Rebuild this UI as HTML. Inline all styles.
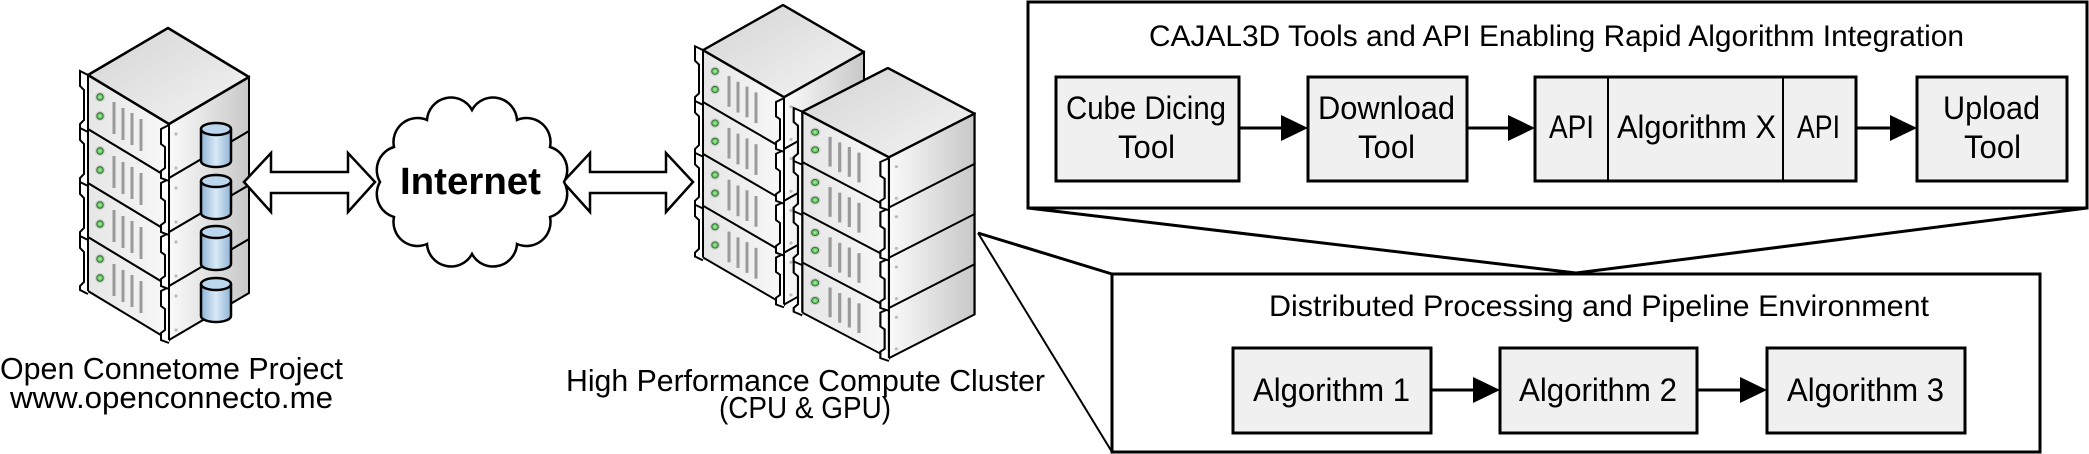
<!DOCTYPE html>
<html><head><meta charset="utf-8"><style>
html,body{margin:0;padding:0;background:#fff;}
svg{display:block;}
text{font-family:"Liberation Sans",sans-serif;fill:#000;}
</style></head><body>
<svg width="2089" height="454" viewBox="0 0 2089 454" xmlns="http://www.w3.org/2000/svg">
<defs>
<linearGradient id="gtop" x1="0" y1="0" x2="1" y2="1"><stop offset="0" stop-color="#d4d4d4"/><stop offset="1" stop-color="#f4f4f4"/></linearGradient>
<linearGradient id="gright" x1="0" y1="0" x2="1" y2="0"><stop offset="0" stop-color="#fafafa"/><stop offset="1" stop-color="#c8c8c8"/></linearGradient>
<linearGradient id="gleft" x1="0" y1="0" x2="1" y2="0"><stop offset="0" stop-color="#e6e6e6"/><stop offset="1" stop-color="#f8f8f8"/></linearGradient>
<linearGradient id="gcyl" x1="0" y1="0" x2="1" y2="0"><stop offset="0" stop-color="#8fb4d6"/><stop offset="0.5" stop-color="#d9e9f6"/><stop offset="1" stop-color="#8fb4d6"/></linearGradient>
<radialGradient id="gled"><stop offset="0" stop-color="#b8f0b0"/><stop offset="1" stop-color="#3fae3f"/></radialGradient>
<g id="unit">
  <polygon points="18,47 99,96 99,150 18,101" fill="url(#gleft)" stroke="#000" stroke-width="2"/>
  <polygon points="99,96 179,49 179,103 99,150" fill="url(#gright)" stroke="#000" stroke-width="2"/>
  <circle cx="30" cy="69" r="5" fill="#ccc"/><circle cx="30" cy="69" r="3.3" fill="url(#gled)" stroke="#2a6a2a" stroke-width="0.8"/>
  <circle cx="30" cy="88" r="5" fill="#ccc"/><circle cx="30" cy="88" r="3.3" fill="url(#gled)" stroke="#2a6a2a" stroke-width="0.8"/>
  <g stroke="#9a9a9a" stroke-width="3">
    <line x1="44" y1="74" x2="44" y2="106"/><line x1="53" y1="80" x2="53" y2="112"/><line x1="62" y1="85" x2="62" y2="117"/><line x1="71" y1="91" x2="71" y2="123"/>
  </g>
  <path d="M18,47 L10,43 L10,58 L14,62 L14,92 L10,96 L10,100 L18,104" fill="#fff" stroke="#000" stroke-width="2"/>
  <path d="M99,97 L91,101 L91,116 L95,119 L95,140 L91,143 L91,150 L99,153" fill="#fff" stroke="#000" stroke-width="2"/>
  <circle cx="106" cy="106" r="1.6" fill="#bbb"/><circle cx="106" cy="140" r="1.6" fill="#bbb"/>
</g>
<g id="stack">
  <use href="#unit" y="162"/>
  <use href="#unit" y="108"/>
  <use href="#unit" y="54"/>
  <use href="#unit" y="0"/>
  <polygon points="98,0 179,49 99,96 18,47" fill="url(#gtop)" stroke="#000" stroke-width="2.5" stroke-linejoin="round"/>
  <path d="M18,47 L18,263 M179,49 L179,265 M99,96 L99,312" fill="none" stroke="#000" stroke-width="2"/>
</g>
<g id="cyl">
  <path d="M0,6 L0,38 A15,6 0 0 0 30,38 L30,6" fill="url(#gcyl)" stroke="#000" stroke-width="2.5"/>
  <ellipse cx="15" cy="6" rx="15" ry="6" fill="#bcd6ee" stroke="#000" stroke-width="2.5"/>
</g>
</defs>

<use href="#stack" x="70" y="28"/>
<use href="#cyl" x="201" y="123"/>
<use href="#cyl" x="201" y="175"/>
<use href="#cyl" x="201" y="226"/>
<use href="#cyl" x="201" y="278"/>

<g transform="translate(685,5) scale(1,0.96)"><use href="#stack"/></g>
<g transform="translate(783,68) scale(1.07,0.93)"><use href="#stack"/></g>

<polygon points="244,182 271,153 271,172 348,172 348,153 375,182 348,212 348,193 271,193 271,212" fill="#fff" stroke="#000" stroke-width="2.5"/>
<polygon points="563,182 590,153 590,172 666,172 666,153 693,182 666,212 666,193 590,193 590,212" fill="#fff" stroke="#000" stroke-width="2.5"/>

<path d="M564,182 A24,24 0 0 1 550,217 A24,24 0 0 1 517,244 A24,24 0 0 1 472,254 A24,24 0 0 1 427,244 A24,24 0 0 1 394,217 A24,24 0 0 1 380,182 A24,24 0 0 1 394,147 A24,24 0 0 1 427,120 A24,24 0 0 1 472,110 A24,24 0 0 1 517,120 A24,24 0 0 1 550,147 A24,24 0 0 1 564,182 Z" fill="#fff" stroke="#000" stroke-width="2.5"/>
<text x="400" y="194" font-size="38" font-weight="bold" textLength="141" lengthAdjust="spacingAndGlyphs">Internet</text>

<g font-size="31">
<text x="0" y="379" textLength="343" lengthAdjust="spacingAndGlyphs">Open Connetome Project</text>
<text x="10" y="408" textLength="323" lengthAdjust="spacingAndGlyphs">www.openconnecto.me</text>
<text x="566" y="391" textLength="479" lengthAdjust="spacingAndGlyphs">High Performance Compute Cluster</text>
<text x="719" y="418" textLength="172" lengthAdjust="spacingAndGlyphs">(CPU &amp; GPU)</text>
</g>

<g stroke="#000" fill="none">
<line x1="978" y1="233" x2="1112" y2="274" stroke-width="3"/>
<line x1="978" y1="233" x2="1112" y2="452" stroke-width="2"/>
<line x1="1028" y1="208" x2="1576" y2="273" stroke-width="3"/>
<line x1="2087" y1="208" x2="1576" y2="273" stroke-width="3"/>
</g>

<rect x="1028" y="2" width="1059" height="206" fill="#fff" stroke="#000" stroke-width="3"/>
<text x="1149" y="46" font-size="30" textLength="815" lengthAdjust="spacingAndGlyphs">CAJAL3D Tools and API Enabling Rapid Algorithm Integration</text>
<g fill="#f0f0f0" stroke="#000" stroke-width="3">
<rect x="1056" y="77" width="183" height="104"/>
<rect x="1308" y="77" width="159" height="104"/>
<rect x="1535" y="77" width="321" height="104"/>
<rect x="1917" y="77" width="150" height="104"/>
</g>
<g stroke="#000" stroke-width="2"><line x1="1608" y1="77" x2="1608" y2="181"/><line x1="1783" y1="77" x2="1783" y2="181"/></g>
<g font-size="32">
<text x="1066" y="119" textLength="160" lengthAdjust="spacingAndGlyphs">Cube Dicing</text>
<text x="1118" y="158" textLength="57" lengthAdjust="spacingAndGlyphs">Tool</text>
<text x="1318" y="119" textLength="137" lengthAdjust="spacingAndGlyphs">Download</text>
<text x="1358" y="158" textLength="57" lengthAdjust="spacingAndGlyphs">Tool</text>
<text x="1549" y="138" textLength="45" lengthAdjust="spacingAndGlyphs">API</text>
<text x="1617" y="138" textLength="159" lengthAdjust="spacingAndGlyphs">Algorithm X</text>
<text x="1797" y="138" textLength="43" lengthAdjust="spacingAndGlyphs">API</text>
<text x="1943" y="119" textLength="97" lengthAdjust="spacingAndGlyphs">Upload</text>
<text x="1964" y="158" textLength="57" lengthAdjust="spacingAndGlyphs">Tool</text>
</g>
<g stroke="#000" stroke-width="3"><line x1="1239" y1="128" x2="1285" y2="128"/><line x1="1467" y1="128" x2="1512" y2="128"/><line x1="1856" y1="128" x2="1894" y2="128"/></g>
<g fill="#000"><polygon points="1281,115 1308,128 1281,141"/><polygon points="1508,115 1535,128 1508,141"/><polygon points="1890,115 1917,128 1890,141"/></g>

<rect x="1112" y="274" width="928" height="178" fill="#fff" stroke="#000" stroke-width="3"/>
<text x="1269" y="316" font-size="30" textLength="660" lengthAdjust="spacingAndGlyphs">Distributed Processing and Pipeline Environment</text>
<g fill="#f0f0f0" stroke="#000" stroke-width="3">
<rect x="1233" y="348" width="198" height="85"/>
<rect x="1500" y="348" width="197" height="85"/>
<rect x="1767" y="348" width="198" height="85"/>
</g>
<g font-size="32">
<text x="1253" y="401" textLength="157" lengthAdjust="spacingAndGlyphs">Algorithm 1</text>
<text x="1519" y="401" textLength="158" lengthAdjust="spacingAndGlyphs">Algorithm 2</text>
<text x="1787" y="401" textLength="157" lengthAdjust="spacingAndGlyphs">Algorithm 3</text>
</g>
<g stroke="#000" stroke-width="3"><line x1="1431" y1="390" x2="1476" y2="390"/><line x1="1697" y1="390" x2="1743" y2="390"/></g>
<g fill="#000"><polygon points="1473,377 1500,390 1473,403"/><polygon points="1740,377 1767,390 1740,403"/></g>
</svg>
</body></html>
